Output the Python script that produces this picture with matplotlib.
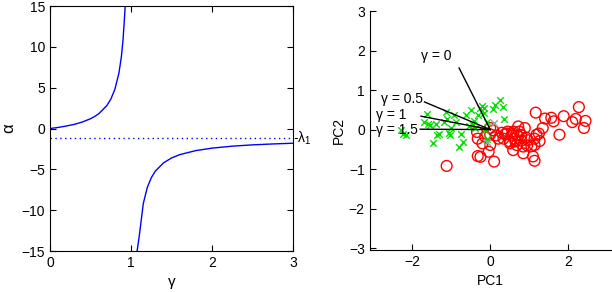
import matplotlib
matplotlib.use('Agg')
import matplotlib.pyplot as plt

plt.rcParams['font.family'] = ['Liberation Sans', 'DejaVu Sans']
plt.rcParams['mathtext.fontset'] = 'custom'
plt.rcParams['mathtext.rm'] = 'Liberation Sans'
plt.rcParams['mathtext.it'] = 'Liberation Sans'

# left panel: alpha as a function of gamma
gammaUpper = [0.0, 0.1, 0.2, 0.3, 0.4, 0.5, 0.55, 0.6, 0.7, 0.75, 0.8, 0.85, 0.88, 0.9, 0.92, 0.927]
alphaUpper = [0.0, 0.13, 0.3, 0.51, 0.8, 1.2, 1.47, 1.8, 2.8, 3.6, 4.8, 6.8, 8.8, 10.8, 13.8, 15.0]
gammaLower = [1.074, 1.1, 1.15, 1.2, 1.25, 1.3, 1.4, 1.5, 1.6, 1.8, 2.0, 2.25, 2.5, 2.75, 3.0]
alphaLower = [-15.0, -13.2, -9.2, -7.2, -6.0, -5.2, -4.2, -3.6, -3.2, -2.7, -2.4, -2.16, -2.0, -1.89, -1.8]
lambda1 = -1.2

# right panel: PCA scores
greenX = [-2.29, -2.16, -2.25, -1.63, -1.59, -1.54, -1.40, -1.46, -1.31, -1.36, -1.14, -1.10,
          -1.06, -1.03, -1.02, -0.93, -0.89, -0.81, -0.76, -0.69, -0.61, -0.55, -0.49, -0.42,
          -0.38, -0.32, -0.25, -0.21, -0.17, -0.15, 0.08, 0.13, 0.24, 0.32, 0.36, -0.08, -0.13,
          -0.08, -1.70, -1.20, -0.45]
greenY = [-0.02, -0.14, -0.10, 0.39, 0.15, 0.11, 0.15, -0.33, -0.12, -0.14, 0.45, 0.28,
          -0.08, -0.14, 0.04, 0.36, 0.18, -0.44, -0.12, -0.31, 0.36, 0.09, 0.49, 0.21,
          0.04, 0.36, 0.55, 0.60, 0.55, 0.41, 0.52, 0.62, 0.76, 0.56, 0.28, 0.19, -0.02,
          -0.23, 0.18, 0.20, 0.12]
greyX = [-0.08, 0.10]
greyY = [-0.31, 0.17]
redX = [-1.12, 2.28, 1.17, 1.41, 1.57, 1.63, 1.89, 2.11, 2.20, 2.45, 2.41, 1.35, 1.78, 1.19,
        1.27, 1.14, 1.14, 0.72, 0.89, 0.42, 0.59, 0.34, 0.63, 0.80, 0.97, 1.14, 0.51, 0.68,
        0.85, 1.06, 0.59, 0.85, 1.10, 0.10, -0.25, -0.32, -0.04, 0.00, 0.00, 0.21, -0.13,
        -0.32, -0.34, 0.08, 0.00, 0.45, 0.55, 0.75, 0.65, 0.92, 0.30, 0.50, 0.70, 0.95, 1.25,
        0.15, -0.20, 0.60, 0.80, 0.38]
redY = [-0.92, 0.57, 0.43, 0.28, 0.30, 0.21, 0.34, 0.19, 0.27, 0.22, 0.04, 0.04, -0.13, -0.13,
        -0.29, -0.39, -0.79, 0.08, 0.04, -0.10, -0.10, -0.23, -0.23, -0.14, -0.27, -0.23, -0.35,
        -0.39, -0.43, -0.42, -0.52, -0.60, -0.68, -0.81, -0.69, -0.67, -0.56, -0.39, -0.12,
        -0.23, -0.18, -0.23, -0.06, -0.02, 0.04, -0.05, -0.15, -0.05, -0.30, -0.20, -0.08,
        -0.30, -0.15, -0.40, -0.10, -0.15, -0.35, -0.05, -0.28, -0.12]

# gamma direction vectors and labels
vecLabels = ['\u03b3 = 0', '\u03b3 = 0.5', '\u03b3 = 1', '\u03b3 = 1.5']
vecEndX = [-0.80, -1.69, -1.78, -1.80]
vecEndY = [1.56, 0.70, 0.34, 0.01]
labelX = [-1.78, -2.81, -2.94, -2.94]
labelY = [1.87, 0.78, 0.38, -0.01]

fig = plt.figure(figsize=(6.12, 2.92), dpi=100)

ax1 = fig.add_axes([0.0817, 0.1404, 0.3976, 0.839])
ax1.plot(gammaUpper, alphaUpper, color='blue', lw=1)
ax1.plot(gammaLower, alphaLower, color='blue', lw=1)
ax1.axhline(lambda1, color='blue', ls=(0, (1, 2.5)), lw=1)
ax1.set_xlim(0, 3)
ax1.set_ylim(-15, 15)
ax1.set_xticks([0, 1, 2, 3])
ax1.set_yticks([-15, -10, -5, 0, 5, 10, 15])
ax1.set_yticklabels(['\u221215', '\u221210', '\u22125', '0', '5', '10', '15'])
ax1.tick_params(direction='in', top=True, right=True, labelsize=10, length=4)
ax1.set_xlabel('\u03b3', fontsize=11)
ax1.set_ylabel('\u03b1', fontsize=12, labelpad=4)
ax1.text(3.0, lambda1, '-\u03bb$_1$', fontsize=10, va='center', ha='left', clip_on=False)

ax2 = fig.add_axes([0.604, 0.1438, 0.394, 0.818])
ax2.scatter(redX, redY, s=60, facecolors='none', edgecolors='red', linewidths=1, zorder=2)
ax2.scatter(greenX, greenY, s=22, marker='x', color='#00e000', linewidths=1, zorder=3)
ax2.scatter(greyX, greyY, s=22, marker='x', color='#a0a0a0', linewidths=1, zorder=3)
for ex, ey, lab, tx, ty in zip(vecEndX, vecEndY, vecLabels, labelX, labelY):
    ax2.plot([0, ex], [0, ey], color='black', lw=1, zorder=4)
    ax2.text(tx, ty, lab, fontsize=10, ha='left', va='center', zorder=5)
ax2.set_xlim(-3.1, 3.1)
ax2.set_ylim(-3.05, 3.0)
ax2.set_xticks([-2, 0, 2])
ax2.set_xticklabels(['\u22122', '0', '2'])
ax2.set_yticks([-3, -2, -1, 0, 1, 2, 3])
ax2.set_yticklabels(['\u22123', '\u22122', '\u22121', '0', '1', '2', '3'])
ax2.spines['top'].set_visible(False)
ax2.spines['right'].set_visible(False)
ax2.tick_params(direction='in', labelsize=10, length=4)
ax2.set_xlabel('PC1', fontsize=10)
ax2.set_ylabel('PC2', fontsize=10, labelpad=2)

fig.savefig('out.png', dpi=100)
